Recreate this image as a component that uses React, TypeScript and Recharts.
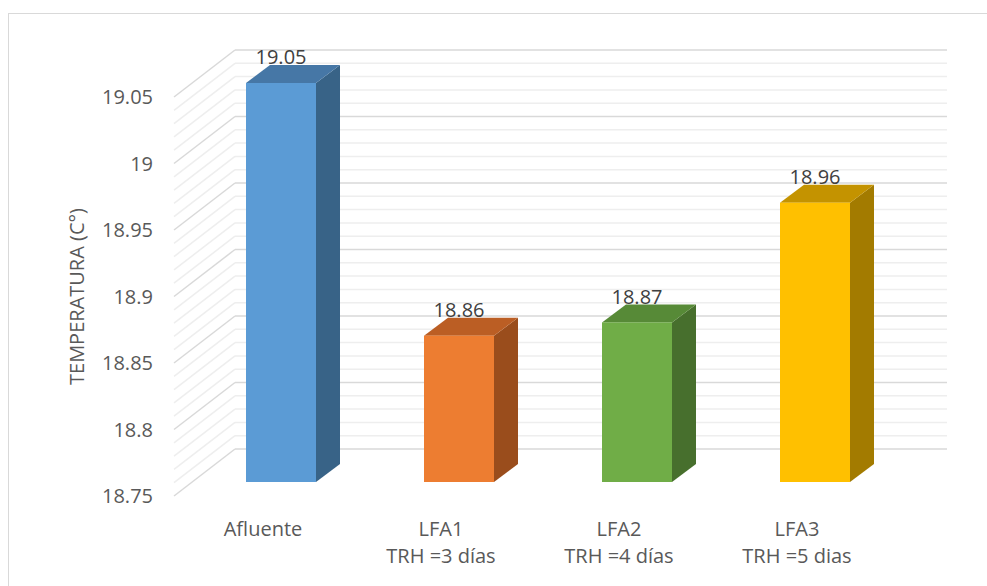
import { BarChart, Bar, XAxis, YAxis, CartesianGrid, LabelList } from "recharts"

const categories = ["Afluente", "LFA1", "LFA2", "LFA3"]
const subLabels = ["", "TRH =3 días", "TRH =4 días", "TRH =5 dias"]
const temperatures = [19.05, 18.86, 18.87, 18.96]
const yTicks = [
  18.75, 18.76, 18.77, 18.78, 18.79, 18.8, 18.81, 18.82, 18.83, 18.84, 18.85,
  18.86, 18.87, 18.88, 18.89, 18.9, 18.91, 18.92, 18.93, 18.94, 18.95,
  18.96, 18.97, 18.98, 18.99, 19, 19.01, 19.02, 19.03, 19.04, 19.05,
]

const data = categories.map((name, i) => ({ name, sub: subLabels[i], value: temperatures[i] }))

// front / top / side shades for each bar
const faces = [
  { front: "#5b9bd5", top: "#4677a6", side: "#386387" },
  { front: "#ed7d31", top: "#bb5e24", side: "#9a4d1c" },
  { front: "#70ad47", top: "#578a37", side: "#476f2d" },
  { front: "#ffc000", top: "#c49300", side: "#a37b00" },
]

// 3d projection offsets
const WALL_DX = 61
const WALL_DY = -47
const BAR_DX = 18
const BAR_DY = -14
const DEPTH_X = 24
const DEPTH_Y = -18

const axisText = "#595959"

const WallLine = (p: any) => {
  const major = p.index % 5 === 0
  const stroke = major ? "#d9d9d9" : "#eeeeee"
  const bx1 = p.x1 + WALL_DX
  const by = p.y1 + WALL_DY
  return (
    <g key={"wall-" + p.index}>
      <line x1={p.x1} y1={p.y1} x2={bx1} y2={by} stroke={stroke} strokeWidth={1.5} />
      <line x1={bx1} y1={by} x2={p.x2 + WALL_DX} y2={by} stroke={stroke} strokeWidth={1.5} />
    </g>
  )
}

const Bar3D = (p: any) => {
  const { x, y, width, height, index } = p
  const c = faces[index % faces.length]
  const fx = x + BAR_DX
  const fy = y + BAR_DY
  const top = `${fx},${fy} ${fx + DEPTH_X},${fy + DEPTH_Y} ${fx + width + DEPTH_X},${fy + DEPTH_Y} ${fx + width},${fy}`
  const side = `${fx + width},${fy} ${fx + width + DEPTH_X},${fy + DEPTH_Y} ${fx + width + DEPTH_X},${fy + height + DEPTH_Y} ${fx + width},${fy + height}`
  return (
    <g>
      <polygon points={side} fill={c.side} />
      <polygon points={top} fill={c.top} />
      <rect x={fx} y={fy} width={width} height={height} fill={c.front} />
    </g>
  )
}

const ValueLabel = (p: any) => {
  const { x, y, width, value } = p
  return (
    <text
      x={x + width / 2 + BAR_DX}
      y={y - 40}
      textAnchor="middle"
      dy="0.36em"
      fill="#404040"
      fontSize={20}
    >
      {value}
    </text>
  )
}

const YTick = (p: any) => {
  if (p.index % 5 !== 0) return <g />
  return (
    <text x={p.x - 13} y={p.y} dy="0.36em" textAnchor="end" fill={axisText} fontSize={20}>
      {p.payload.value}
    </text>
  )
}

const XTick = (p: any) => {
  const sub = subLabels[p.index]
  return (
    <g>
      <text x={p.x} y={p.y + 32} textAnchor="middle" fill={axisText} fontSize={20}>
        {p.payload.value}
      </text>
      {sub && (
        <text x={p.x} y={p.y + 59} textAnchor="middle" fill={axisText} fontSize={20}>
          {sub}
        </text>
      )}
    </g>
  )
}

const YTitle = (p: any) => {
  const vb = p.viewBox
  const cx = vb.x + 77
  const cy = vb.y + vb.height / 2
  return (
    <text
      x={cx}
      y={cy}
      transform={`rotate(-90 ${cx} ${cy})`}
      textAnchor="middle"
      dy="0.36em"
      fill={axisText}
      fontSize={20}
    >
      TEMPERATURA (C°)
    </text>
  )
}

export default function App() {
  return (
    <div
      style={{
        position: "absolute",
        left: 0,
        top: 0,
        width: 987,
        height: 586,
        overflow: "hidden",
        background: "#fff",
        fontFamily: "'Open Sans', sans-serif",
      }}
    >
      <div
        style={{
          position: "absolute",
          left: 8,
          top: 13,
          width: 1000,
          height: 620,
          border: "1px solid #d9d9d9",
        }}
      />
      <div style={{ position: "absolute", left: 0, top: 0 }}>
        <BarChart
          width={987}
          height={586}
          data={data}
          margin={{ top: 97, right: 101, bottom: 30, left: 0 }}
          barSize={70}
        >
          <CartesianGrid vertical={false} horizontal={WallLine} />
          <XAxis
            dataKey="name"
            axisLine={false}
            tickLine={false}
            height={60}
            interval={0}
            tick={XTick}
          />
          <YAxis
            width={174}
            domain={[18.75, 19.05]}
            ticks={yTicks}
            interval={0}
            axisLine={false}
            tickLine={false}
            tick={YTick}
            label={{ content: YTitle }}
          />
          <Bar dataKey="value" shape={Bar3D} isAnimationActive={false}>
            <LabelList dataKey="value" content={ValueLabel} />
          </Bar>
        </BarChart>
      </div>
    </div>
  )
}
